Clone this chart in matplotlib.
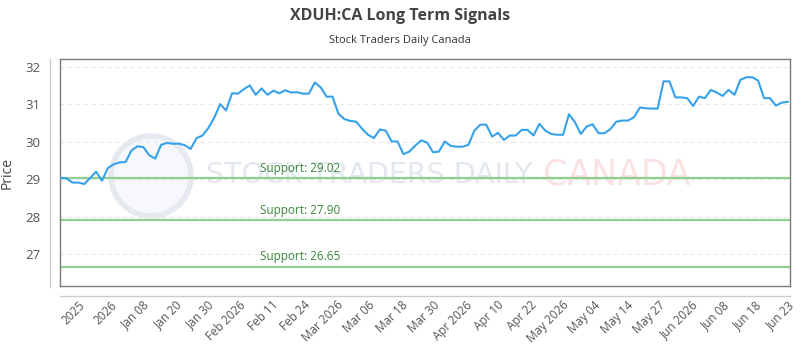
import numpy as np
import matplotlib
matplotlib.use("Agg")
import matplotlib.pyplot as plt
from matplotlib.lines import Line2D
from matplotlib.patches import Circle
import matplotlib.transforms as mtransforms

# closing prices, one per trading day
prices = [
    29.04, 29.02, 28.91, 28.91, 28.87, 29.03, 29.20, 28.96, 29.30, 29.40, 29.45,
    29.46, 29.77, 29.88, 29.86, 29.64, 29.55, 29.92, 29.97, 29.95, 29.95,
    29.91, 29.81, 30.10, 30.17, 30.37, 30.65, 31.01, 30.84, 31.30, 31.29, 31.41,
    31.51, 31.26, 31.43, 31.26, 31.37, 31.30, 31.38, 31.32, 31.33, 31.29,
    31.29, 31.59, 31.46, 31.21, 31.21, 30.75, 30.61, 30.56, 30.54, 30.35,
    30.19, 30.10, 30.33, 30.30, 30.01, 30.01, 29.67, 29.74, 29.90, 30.04,
    29.98, 29.72, 29.74, 30.01, 29.89, 29.87, 29.87, 29.92, 30.30, 30.46, 30.46,
    30.14, 30.24, 30.05, 30.17, 30.17, 30.32, 30.32, 30.17, 30.48, 30.30,
    30.21, 30.19, 30.19, 30.74, 30.53, 30.21, 30.41, 30.47, 30.23, 30.23,
    30.34, 30.54, 30.57, 30.57, 30.66, 30.92, 30.90, 30.89, 30.89,
    31.62, 31.62, 31.19, 31.19, 31.17, 30.96, 31.21, 31.17, 31.39, 31.32, 31.23,
    31.39, 31.26, 31.66, 31.73, 31.73, 31.64, 31.17, 31.17, 30.97, 31.05, 31.07,
]

tick_labels = ["2025", "2026", "Jan 08", "Jan 20", "Jan 30", "Feb 2026", "Feb 11",
               "Feb 24", "Mar 2026", "Mar 06", "Mar 18", "Mar 30", "Apr 2026",
               "Apr 10", "Apr 22", "May 2026", "May 04", "May 14", "May 27",
               "Jun 2026", "Jun 08", "Jun 18", "Jun 23"]

support_levels = [29.02, 27.90, 26.65]
yticks = [27, 28, 29, 30, 31, 32]

plt.rcParams['font.family'] = ['Open Sans', 'DejaVu Sans']

fig = plt.figure(figsize=(8, 3.5), dpi=100)
ax = fig.add_axes([60.3 / 800, 1 - 286 / 350, 730 / 800, (286 - 59.3) / 350])

x = np.arange(len(prices))

# watermark
ax.text(0.2, 0.49, "STOCK TRADERS DAILY", transform=ax.transAxes, fontsize=20.5,
        family=['DejaVu Sans'], color='#e3e8ef', ha='left', va='center', zorder=0)
ax.text(0.661, 0.49, "CANADA", transform=ax.transAxes, fontsize=25,
        family=['DejaVu Sans'], color='#fbe1e1', ha='left', va='center', zorder=0)
logo = Circle((151, 350 - 176), 40, transform=mtransforms.IdentityTransform(),
              facecolor='#f7f8fb', edgecolor='#e6eaf0', lw=4, zorder=0.5)
ax.add_artist(logo)

ax.plot(x, prices, color='#36a2eb', lw=1.5, zorder=3)

blend = mtransforms.blended_transform_factory(ax.transAxes, ax.transData)
for lvl in support_levels:
    ax.axhline(lvl, color='#8fcf8f', lw=1.6, zorder=2)
    ax.annotate("Support: %.2f" % lvl, xy=(0.2736, lvl), xycoords=blend,
                xytext=(0, 2.5), textcoords='offset points',
                color='#3b873b', fontsize=8.5, ha='left', va='bottom')

ax.set_xlim(-0.05, len(prices) - 1 + 0.44)
ax.set_ylim(26.14, 32.21)
ax.set_yticks(yticks)
ax.yaxis.grid(True, linestyle=(0, (4, 3)), color='#e8e8e8', lw=0.8)
ax.set_axisbelow(True)

ax.set_xticks(np.linspace(3, len(prices) - 1, len(tick_labels)))
ax.set_xticklabels(tick_labels, rotation=45, ha='right', rotation_mode='anchor',
                   fontsize=8.5, color='#555555')
ax.tick_params(axis='x', length=0, pad=9)
ax.tick_params(axis='y', length=0, pad=14, labelsize=9.5, labelcolor='#555555')
ax.set_ylabel("Price", fontsize=10, color='#444444', labelpad=8)

for s in ax.spines.values():
    s.set_color('#7a7a7a')
    s.set_linewidth(1)

# outer axis lines
fig.add_artist(Line2D([50 / 800, 50 / 800], [1 - 287 / 350, 1 - 59 / 350],
                      color='#cccccc', lw=1))
fig.add_artist(Line2D([60 / 800, 790 / 800], [1 - 295.7 / 350, 1 - 295.7 / 350],
                      color='#cccccc', lw=1))

fig.text(0.5, 1 - 16 / 350, "XDUH:CA Long Term Signals", ha='center', va='center',
         fontsize=11.5, fontweight='bold', color='#444444')
fig.text(0.5, 1 - 40 / 350, "Stock Traders Daily Canada", ha='center', va='center',
         fontsize=8, color='#333333')

fig.savefig("out.png", dpi=100)
